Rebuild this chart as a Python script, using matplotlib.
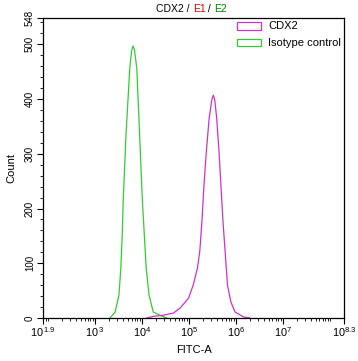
import numpy as np
import matplotlib
matplotlib.use('Agg')
import matplotlib.pyplot as plt
from matplotlib.patches import Rectangle
from matplotlib.ticker import FixedLocator, NullFormatter

plt.rcParams['font.family'] = ['Liberation Sans', 'DejaVu Sans']

# ===== Data (log10 of FITC-A, count) =====

ISO_LOG = [3.32, 3.43, 3.51, 3.55, 3.58, 3.60, 3.63, 3.66, 3.70, 3.74, 3.78, 3.81,
           3.84, 3.89, 3.92, 3.95, 3.98, 4.01, 4.05, 4.09, 4.15, 4.24, 4.38, 4.53]
ISO_COUNT = [0, 11, 42, 91, 152, 212, 273, 335, 395, 456, 488, 497,
             490, 456, 395, 335, 273, 212, 152, 91, 42, 11, 5, 0]

CDX2_LOG = [4.10, 4.24, 4.45, 4.67, 4.81, 4.99, 5.09, 5.18, 5.23, 5.28, 5.32, 5.37,
            5.43, 5.49, 5.52, 5.55, 5.59, 5.64, 5.68, 5.72, 5.77, 5.82, 5.89, 5.98,
            6.16, 6.30]
CDX2_COUNT = [0, 3, 5, 9, 18, 36, 60, 91, 121, 182, 243, 304,
              365, 400, 407, 398, 365, 304, 243, 182, 121, 60, 30, 11,
              2, 0]

X_TICKS_LOG = [1.9, 3, 4, 5, 6, 7, 8.3]
X_TICK_LABELS = [r'$\mathregular{10^{\,1.9}}$', r'$\mathregular{10^{\,3}}$',
                 r'$\mathregular{10^{4}}$', r'$\mathregular{10^{5}}$',
                 r'$\mathregular{10^{6}}$', r'$\mathregular{10^{7}}$',
                 r'$\mathregular{10^{8.3}}$']
Y_TICKS = [0, 100, 200, 300, 400, 500, 548]

CDX2_COLOR = '#cc33cc'
ISO_COLOR = '#33cc33'

# ===== Figure =====

fig = plt.figure(figsize=(3.58, 3.61), dpi=100)
ax = fig.add_axes([43.3 / 358, 1 - 318 / 361, (344 - 43.3) / 358, 300 / 361])

ax.plot(10 ** np.array(ISO_LOG), ISO_COUNT, color=ISO_COLOR, lw=0.9)
ax.plot(10 ** np.array(CDX2_LOG), CDX2_COUNT, color=CDX2_COLOR, lw=0.9)

ax.set_xscale('log')
ax.set_xlim(10 ** 1.9, 10 ** 8.3)
ax.set_ylim(0, 548)

ax.xaxis.set_major_locator(FixedLocator([10 ** v for v in X_TICKS_LOG]))
ax.set_xticklabels(X_TICK_LABELS)
minor_x = [m * 10 ** d for d in range(1, 9) for m in range(1, 10)]
minor_x = [v for v in minor_x if 10 ** 1.9 < v < 10 ** 8.3 and v not in (1e3, 1e4, 1e5, 1e6, 1e7)]
ax.xaxis.set_minor_locator(FixedLocator(minor_x))
ax.xaxis.set_minor_formatter(NullFormatter())

ax.set_yticks(Y_TICKS)
ax.set_yticks(range(20, 548, 20), minor=True)
for lbl in ax.get_yticklabels():
    lbl.set_rotation(90)
    lbl.set_va('center')

ax.tick_params(which='major', direction='out', length=4, width=0.8, labelsize=7, pad=2)
ax.tick_params(which='minor', direction='out', length=2, width=0.6)
ax.tick_params(axis='x', pad=1.5, labelsize=7.8)
for s in ax.spines.values():
    s.set_linewidth(0.9)

ax.set_xlabel('FITC-A', fontsize=8, labelpad=4)
ax.set_ylabel('Count', fontsize=8, labelpad=6)

# legend: outlined boxes
for i, (name, col) in enumerate([('CDX2', CDX2_COLOR), ('Isotype control', ISO_COLOR)]):
    yc = 26 + i * 16.7
    ax.add_patch(Rectangle((237 / 358, 1 - (yc + 3.5) / 361), 24 / 358, 7 / 361,
                           transform=fig.transFigure, fill=False, edgecolor=col,
                           lw=0.9, clip_on=False))
    fig.text(268 / 358, 1 - yc / 361, name, fontsize=8, va='center', ha='left')

# multicolour title
parts = [('CDX2 / ', 'black'), ('E1', '#dd0000'), (' / ', 'black'), ('E2', '#008800')]
fig.canvas.draw()
renderer = fig.canvas.get_renderer()
texts = [fig.text(0, 1 - 8.5 / 361, t, color=c, fontsize=7.5, va='center', ha='left')
         for t, c in parts]
widths = [t.get_window_extent(renderer).width for t in texts]
x = 191.5 - sum(widths) / 2
for t, w in zip(texts, widths):
    t.set_x(x / 358)
    x += w

fig.savefig('out.png', dpi=100)
